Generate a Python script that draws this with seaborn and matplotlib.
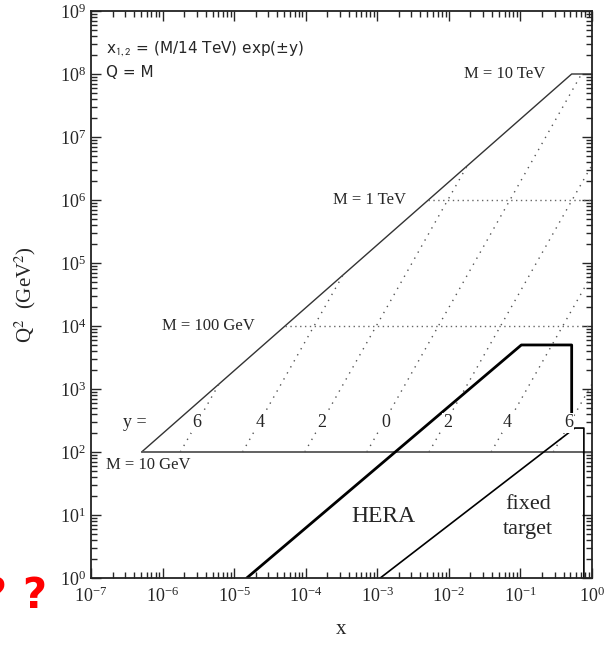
import matplotlib
matplotlib.use("Agg")
import matplotlib.pyplot as plt
import matplotlib.ticker as mticker
import numpy as np
import pandas as pd
import seaborn as sns

# kinematic boundary (Q = M, x2 = 1) and the M = 10 TeV cut
envelope_x = [5.1e-7, 0.52, 1.0]
envelope_q2 = [1e2, 1e8, 1e8]

# M = 10 GeV line (solid), M = 100 GeV and 1 TeV lines (dotted)
m10gev_x = [5.1e-7, 1.0]
m10gev_q2 = [1e2, 1e2]
m100gev_x = [5.1e-5, 1.0]
m100gev_q2 = [1e4, 1e4]
m1tev_x = [5.1e-3, 1.0]
m1tev_q2 = [1e6, 1e6]

# constant rapidity lines: start at M = 10 GeV, end at the boundary
rapidity = [6, 4, 2, 0, -2, -4, -6]
rap_start_x = [1.77e-6, 1.31e-5, 9.7e-5, 7.14e-4, 5.28e-3, 0.039, 0.288]
rap_start_q2 = [1e2, 1e2, 1e2, 1e2, 1e2, 1e2, 1e2]
rap_end_x = [6.15e-6, 3.35e-4, 0.0183, 0.714, 1.0, 1.0, 1.0]
rap_end_q2 = [1.2e3, 6.57e4, 3.59e6, 1e8, 3.59e6, 6.57e4, 1.2e3]
rap_label_x = [3.0e-6, 2.3e-5, 1.7e-4, 1.3e-3, 9.8e-3, 0.066, 0.47]
rap_label_q2 = 290

# HERA and fixed target regions
hera_x = [1.5e-5, 0.103, 0.52, 0.52]
hera_q2 = [1, 5000, 5000, 400]
fixed_x = [1.1e-3, 0.575, 0.77, 0.77]
fixed_q2 = [1, 240, 240, 1]

sns.set_style("ticks")
plt.rcParams["font.family"] = ["Liberation Serif", "DejaVu Serif"]
plt.rcParams["mathtext.fontset"] = "stix"
plt.rcParams["axes.unicode_minus"] = False

fig = plt.figure(figsize=(6.13, 6.45), dpi=100)
ax = fig.add_axes([91 / 613, 1 - 578 / 645, 501 / 613, 567 / 645])


def seg(xs, ys, **kw):
    df = pd.DataFrame({"x": xs, "q2": ys})
    sns.lineplot(data=df, x="x", y="q2", sort=False, estimator=None, ax=ax, **kw)


seg(envelope_x, envelope_q2, color="#333333", lw=1.0)
seg(m10gev_x, m10gev_q2, color="#555555", lw=1.3)
seg(m100gev_x, m100gev_q2, color="#666666", lw=1.0, linestyle=(0, (1, 2.5)))
seg(m1tev_x, m1tev_q2, color="#666666", lw=1.0, linestyle=(0, (1, 2.5)))
for i in range(len(rapidity)):
    seg([rap_start_x[i], rap_end_x[i]], [rap_start_q2[i], rap_end_q2[i]],
        color="#555555", lw=1.0, linestyle=(0, (1, 4)))
seg(hera_x, hera_q2, color="black", lw=2.0)
seg(fixed_x, fixed_q2, color="black", lw=1.2)

ax.set_xscale("log")
ax.set_yscale("log")
ax.set_xlim(1e-7, 1)
ax.set_ylim(1, 1e9)

ax.xaxis.set_major_locator(mticker.LogLocator(base=10, numticks=20))
ax.yaxis.set_major_locator(mticker.LogLocator(base=10, numticks=20))
ax.xaxis.set_minor_locator(mticker.LogLocator(base=10, subs=np.arange(2, 10), numticks=20))
ax.yaxis.set_minor_locator(mticker.LogLocator(base=10, subs=np.arange(2, 10), numticks=20))
ax.xaxis.set_minor_formatter(mticker.NullFormatter())
ax.yaxis.set_minor_formatter(mticker.NullFormatter())
ax.tick_params(which="both", direction="in", top=True, right=True, width=1.0, labelsize=13)
ax.tick_params(which="major", length=7)
ax.tick_params(which="minor", length=4)
ax.tick_params(axis="x", pad=6)
for sp in ax.spines.values():
    sp.set_linewidth(1.3)
    sp.set_color("#222222")

ax.set_xlabel("x", fontsize=15, labelpad=10)
ax.set_ylabel("Q$^2$  (GeV$^2$)", fontsize=15, labelpad=16)

# annotations
box = dict(facecolor="white", edgecolor="none", pad=1.0)
ax.text(1.6e-7, 10 ** 8.41, "x$_\\mathsf{1,2}$ = (M/14 TeV) exp(±y)", family="DejaVu Sans",
        fontsize=11, va="center", ha="left")
ax.text(1.6e-7, 10 ** 8.02, "Q = M", family="DejaVu Sans", fontsize=11, va="center", ha="left")
ax.text(0.22, 1e8, "M = 10 TeV", fontsize=12, va="center", ha="right", bbox=box)
ax.text(2.5e-3, 1e6, "M = 1 TeV", fontsize=12, va="center", ha="right", bbox=box)
ax.text(1.95e-5, 1e4, "M = 100 GeV", fontsize=12, va="center", ha="right", bbox=box)
ax.text(1.6e-7, 62, "M = 10 GeV", fontsize=12, va="center", ha="left")
ax.text(10 ** -6.39, rap_label_q2, "y =", fontsize=13, va="center", ha="center")
for i in range(len(rapidity)):
    ax.text(rap_label_x[i], rap_label_q2, str(abs(rapidity[i])), fontsize=13,
            va="center", ha="center", bbox=box)
ax.text(1.2e-3, 9.3, "HERA", fontsize=17, va="center", ha="center")
ax.text(0.127, 9.3, "fixed\ntarget", fontsize=16, va="center", ha="center", linespacing=1.4)

fig.text(34 / 613, 1 - 596 / 645, "?", color="red", fontsize=30, fontweight="bold",
         family="DejaVu Sans", ha="center", va="center")
fig.text(-6 / 613, 1 - 596 / 645, "?", color="red", fontsize=30, fontweight="bold",
         family="DejaVu Sans", ha="center", va="center")

fig.savefig("out.png", dpi=100)
